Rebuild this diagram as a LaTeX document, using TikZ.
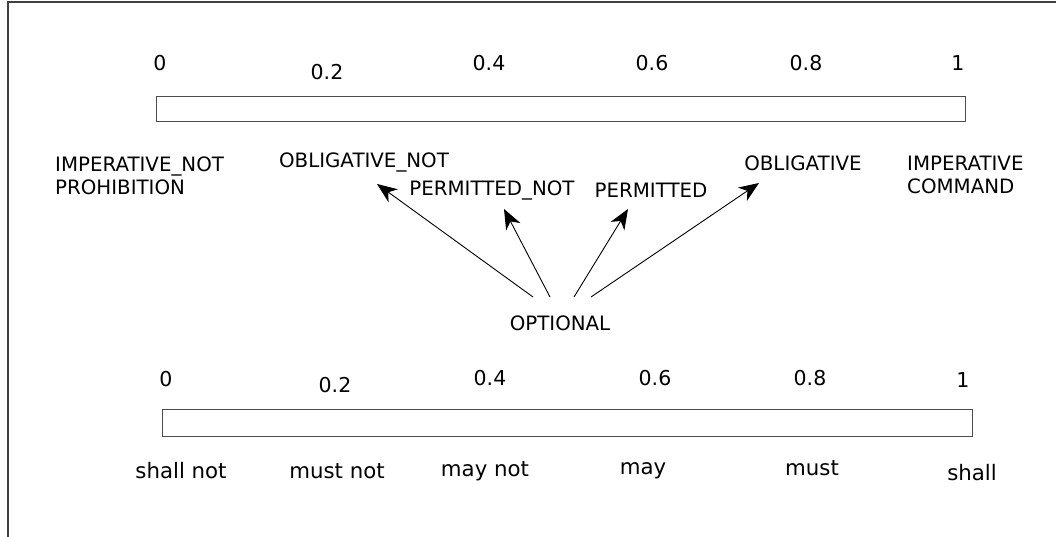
\documentclass[tikz,border=0pt]{standalone}
\usepackage{fontspec}
\setmainfont{DejaVu Sans}
\usetikzlibrary{arrows.meta}
\begin{document}
\begin{tikzpicture}[x=1bp,y=-1bp,
  lbl/.style={inner sep=0pt, font=\fontsize{19.8bp}{23bp}\selectfont},
  num/.style={inner sep=0pt, font=\fontsize{20.5bp}{24bp}\selectfont},
  lblb/.style={inner sep=0pt, font=\fontsize{21.3bp}{24bp}\selectfont},
  lblleft/.style={lbl, anchor=west, align=left},
  bar/.style={draw=black!70, line width=1bp},
  frameline/.style={draw=black!75, line width=1.2bp},
  arr/.style={draw=black, line width=0.9bp, -{Stealth[length=20bp,width=16bp,inset=6bp]}}]
\useasboundingbox (0,0) rectangle (1056,537);
% frame
\draw[frameline] (1056,2) -- (8,2) -- (8,537);
% top bar
\node[bar, minimum width=808bp, minimum height=25bp, inner sep=0pt] (topbar) at (561,109.5) {};
\node[num] (t0) at (160,63) {0};
\node[num] (t2) at (327,72) {0.2};
\node[num] (t4) at (489,63) {0.4};
\node[num] (t6) at (652,63) {0.6};
\node[num] (t8) at (806,63) {0.8};
\node[num] (t10) at (958,63) {1};
% labels
\node[lblleft] (impnot) at (55,176) {IMPERATIVE\_NOT\\PROHIBITION};
\node[lbl] (oblnot) at (364,162) {OBLIGATIVE\_NOT};
\node[lbl] (permnot) at (492,190) {PERMITTED\_NOT};
\node[lbl] (perm) at (651,190) {PERMITTED};
\node[lbl] (obl) at (803,163) {OBLIGATIVE};
\node[lblleft] (imp) at (907,175) {IMPERATIVE\\COMMAND};
\node[lbl] (opt) at (560,323) {OPTIONAL};
% arrow ends
\coordinate (s1) at (533,297);
\coordinate (s2) at (550,297);
\coordinate (s3) at (574,297);
\coordinate (s4) at (591,297);
\coordinate (e1) at (377,184);
\coordinate (e2) at (504,209);
\coordinate (e3) at (628,209);
\coordinate (e4) at (759,183);
\draw[arr] (s1) -- (e1);
\draw[arr] (s2) -- (e2);
\draw[arr] (s3) -- (e3);
\draw[arr] (s4) -- (e4);
% bottom bar
\node[bar, minimum width=809bp, minimum height=27bp, inner sep=0pt] (botbar) at (567.5,422.5) {};
\node[num] (b0) at (166,379) {0};
\node[num] (b2) at (335,385) {0.2};
\node[num] (b4) at (490,378) {0.4};
\node[num] (b6) at (655,378) {0.6};
\node[num] (b8) at (810,378) {0.8};
\node[num] (b10) at (963,380) {1};
\node[lblb] (w1) at (181,471) {shall not};
\node[lblb] (w2) at (337,471) {must not};
\node[lblb] (w3) at (485,471) {may not};
\node[lblb] (w4) at (643,471) {may};
\node[lblb] (w5) at (812,468) {must};
\node[lblb] (w6) at (972,473) {shall};
\end{tikzpicture}
\end{document}
